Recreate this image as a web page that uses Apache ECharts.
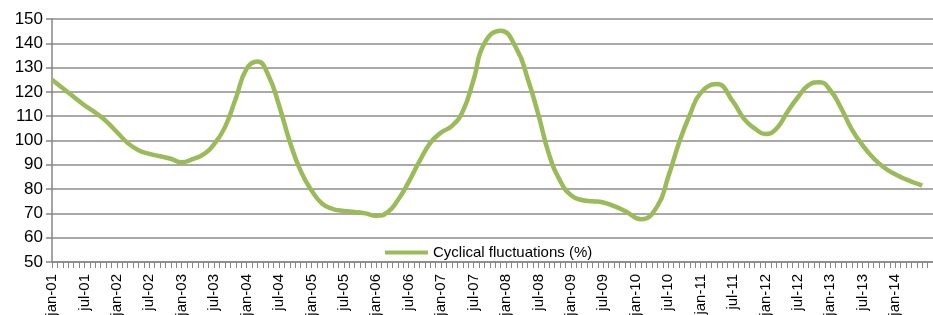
<!DOCTYPE html>
<html>
<head>
<meta charset="utf-8">
<script src="https://cdn.jsdelivr.net/npm/echarts@6/dist/echarts.min.js"></script>
<style>
html,body{margin:0;padding:0;background:#fff;}
#main{width:933px;height:315px;}
</style>
</head>
<body>
<div id="main"></div>
<script>
// month names and years for the category axis (jan-01 ... aug-14)
let monthNames = ['jan','feb','mar','apr','may','jun','jul','aug','sep','oct','nov','dec'];
let years = ['01','02','03','04','05','06','07','08','09','10','11','12','13','14'];
let lastMonthOf14 = 8;

// month index (0 = jan-01) of each point
let pointMonth = [0,2,4,6,8,10,12,14,16,18,20,22,24,26,28,30,32,34,36,38,40,42,44,46,48,50,52,54,56,58,
    60,62,64,66,68,70,72,74,76,78,80,83,86,88,90,92,94,96,98,100,102,104,106,109,112,114,116,118,
    120,123,126,128,130,132,134,136,138,140,142,144,146,148,150,152,154,156,158,160,161];
// cyclical fluctuations (%) at those months
let cycleValues = [125,121.5,118,114.5,111.5,108,103.5,99,96,94.5,93.5,92.5,91,92.3,94.3,98.5,105.5,117.3,129.5,132.5,127,114.5,99.5,87.5,79.5,74,71.8,71,70.6,70,
    69,70.3,75.5,83,91.5,99,103.3,106,112,125,140,145.2,137.5,125.5,110.5,94,83.5,77.5,75.5,75,74.5,73,71,67.6,73,85,99,110.5,
    119.5,123.2,116,109,105,102.7,104.8,111.5,117.8,122.8,124,120.7,113.3,104.5,98,92.7,88.8,86.1,84,82.3,81.4];

let yTicks = {min:50, max:150, step:10};
let seriesName = 'Cyclical fluctuations (%)';

let categories = [];
for (let y = 0; y < years.length; y++) {
    let n = (y == years.length - 1) ? lastMonthOf14 : 12;
    for (let m = 0; m < n; m++) {
        categories.push(monthNames[m] + '-' + years[y]);
    }
}

let seriesData = [];
for (let i = 0; i < pointMonth.length; i++) {
    seriesData.push([pointMonth[i], cycleValues[i]]);
}

let myChart = echarts.init(document.getElementById('main'));
let font = 'Liberation Sans, Arial, sans-serif';
let option = {
    animation: false,
    grid: {
        left: 52,
        right: 0,
        top: 19,
        bottom: 53,
        containLabel: false,
        outerBoundsMode: 'none'
    },
    legend: {
        data: [seriesName],
        icon: 'rect',
        left: 385,
        top: 245,
        padding: 0,
        itemWidth: 43,
        itemHeight: 4,
        itemGap: 5,
        textStyle: {
            fontFamily: font,
            fontSize: 15,
            color: '#000'
        }
    },
    xAxis: {
        type: 'category',
        data: categories,
        boundaryGap: false,
        axisLine: {
            lineStyle: {color: '#868686', width: 1.5}
        },
        axisTick: {
            interval: 0,
            length: 6,
            lineStyle: {color: '#868686', width: 1}
        },
        axisLabel: {
            interval: function (i) { return i % 6 == 0 && i <= 156; },
            rotate: 90,
            margin: 12,
            fontFamily: font,
            fontSize: 15,
            color: '#000'
        },
        splitLine: {show: false}
    },
    yAxis: {
        type: 'value',
        min: yTicks.min,
        max: yTicks.max,
        interval: yTicks.step,
        axisLine: {
            show: true,
            lineStyle: {color: '#868686', width: 1.5}
        },
        axisTick: {
            show: true,
            length: 6,
            lineStyle: {color: '#868686', width: 1.5}
        },
        axisLabel: {
            margin: 9,
            fontFamily: font,
            fontSize: 17,
            color: '#000'
        },
        splitLine: {
            show: true,
            lineStyle: {color: '#8c8c8c', width: 1.5}
        }
    },
    series: [{
        name: seriesName,
        type: 'line',
        data: seriesData,
        smooth: 0.5,
        symbol: 'none',
        lineStyle: {color: '#9bbb59', width: 4.5},
        itemStyle: {color: '#9bbb59'}
    }]
};
myChart.setOption(option);
</script>
</body>
</html>
